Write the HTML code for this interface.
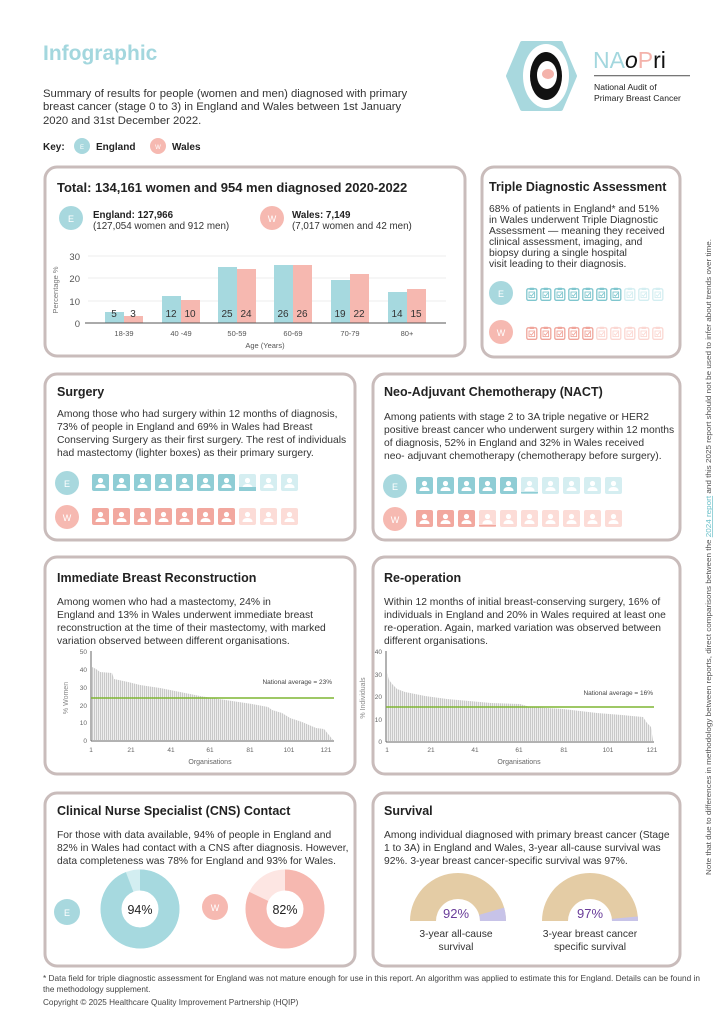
<!DOCTYPE html>
<html><head><meta charset="utf-8"><style>
body{margin:0;background:#fff}
svg{display:block;font-family:"Liberation Sans",sans-serif}
</style></head><body>
<svg width="724" height="1024" viewBox="0 0 724 1024" xmlns="http://www.w3.org/2000/svg">
<defs>
<pattern id="bars" width="2" height="10" patternUnits="userSpaceOnUse"><rect x="0" y="0" width="1.3" height="10" fill="#c9c9c9"/></pattern>
<g id="pp"><rect x="0" y="0" width="17" height="17" rx="2"/><circle cx="8.5" cy="6.5" r="2.6" fill="#fff"/><path d="M3.5 14 Q3.5 10 8.5 10 Q13.5 10 13.5 14 Z" fill="#fff"/></g>
<g id="cb"><rect x="0.8" y="1.8" width="10" height="11.5" rx="1.5" fill="none" stroke-width="1.3"/><rect x="3.5" y="0.8" width="4.6" height="2.2" rx="0.6" stroke-width="0" /><rect x="3" y="5" width="5.6" height="5.6" fill="none" stroke-width="0.9"/><path d="M4 7.8 L5.4 9.2 L7.8 6.2" fill="none" stroke-width="0.9"/></g>
</defs>

<!-- header -->
<text x="43" y="60" font-size="21" font-weight="bold" fill="#a3d7de">Infographic</text>
<text font-size="11.3" fill="#333"><tspan x="43" y="97">Summary of results for people (women and men) diagnosed with primary</tspan><tspan x="43" y="110">breast cancer (stage 0 to 3) in England and Wales between 1st January</tspan><tspan x="43" y="124">2020 and 31st December 2022.</tspan></text>
<text x="43" y="150" font-size="10" font-weight="bold" fill="#222">Key:</text>
<circle cx="82" cy="146" r="8" fill="#a8d8de"/><text x="82" y="149" font-size="6" fill="#fff" text-anchor="middle">E</text>
<text x="96" y="150" font-size="10" font-weight="bold" fill="#222">England</text>
<circle cx="158" cy="146" r="8" fill="#f6b9b1"/><text x="158" y="149" font-size="6" fill="#fff" text-anchor="middle">W</text>
<text x="172" y="150" font-size="10" font-weight="bold" fill="#222">Wales</text>

<!-- logo -->
<polygon points="522,43 561,43 575,76 561,109 522,109 508,76" fill="#a8d8de" stroke="#a8d8de" stroke-width="4" stroke-linejoin="round"/>
<ellipse cx="546" cy="76" rx="23" ry="32" fill="#fff"/>
<ellipse cx="546" cy="76" rx="16" ry="24" fill="#111"/>
<ellipse cx="547" cy="75" rx="10" ry="14" fill="#fff"/>
<ellipse cx="548" cy="74" rx="6" ry="5" fill="#f4b3ab"/>
<text x="593" y="68" font-size="23" fill="#a3d7de">NA<tspan fill="#111" font-style="italic">o</tspan><tspan fill="#f4b3ab">P</tspan><tspan fill="#111">ri</tspan></text>
<rect x="594" y="75" width="96" height="1.3" fill="#777"/>
<text x="594" y="90" font-size="8.6" fill="#222">National Audit of</text>
<text x="594" y="101" font-size="8.6" fill="#222">Primary Breast Cancer</text>

<!-- panels -->
<g fill="#fff" stroke="#c9bcbb" stroke-width="3">
<rect x="45" y="167" width="420" height="189" rx="12"/>
<rect x="482" y="167" width="198" height="190" rx="12"/>
<rect x="45" y="374" width="310" height="166" rx="12"/>
<rect x="373" y="374" width="307" height="166" rx="12"/>
<rect x="45" y="557" width="310" height="217" rx="12"/>
<rect x="373" y="557" width="307" height="217" rx="12"/>
<rect x="45" y="793" width="310" height="173" rx="12"/>
<rect x="373" y="793" width="307" height="173" rx="12"/>
</g>

<!-- Total panel -->
<text x="57" y="192" font-size="13" font-weight="bold" fill="#222">Total: 134,161 women and 954 men diagnosed 2020-2022</text>
<circle cx="71" cy="218" r="12" fill="#a8d8de"/><text x="71" y="222" font-size="9" fill="#fff" text-anchor="middle">E</text>
<text x="93" y="218" font-size="9.8" font-weight="bold" fill="#222">England: 127,966</text>
<text x="93" y="229" font-size="9.8" fill="#333">(127,054 women and 912 men)</text>
<circle cx="272" cy="218" r="12" fill="#f6b9b1"/><text x="272" y="222" font-size="9" fill="#fff" text-anchor="middle">W</text>
<text x="292" y="218" font-size="9.8" font-weight="bold" fill="#222">Wales: 7,149</text>
<text x="292" y="229" font-size="9.8" fill="#333">(7,017 women and 42 men)</text>
<g stroke="#e6e6e6" stroke-width="0.8"><line x1="88" y1="256" x2="446" y2="256"/><line x1="88" y1="278" x2="446" y2="278"/><line x1="88" y1="301" x2="446" y2="301"/></g>
<g font-size="9.5" fill="#555" text-anchor="end"><text x="80" y="260">30</text><text x="80" y="282">20</text><text x="80" y="305">10</text><text x="80" y="327">0</text></g>
<text transform="translate(58,290) rotate(-90)" font-size="7.5" fill="#777" text-anchor="middle">Percentage %</text>
<g fill="#a6d9df"><rect x="105" y="312" width="19" height="11"/><rect x="162" y="296" width="19" height="27"/><rect x="218" y="267" width="19" height="56"/><rect x="274" y="265" width="19" height="58"/><rect x="331" y="280" width="19" height="43"/><rect x="388" y="292" width="19" height="31"/></g>
<g fill="#f6b8b0"><rect x="124" y="316" width="19" height="7"/><rect x="181" y="300" width="19" height="23"/><rect x="237" y="269" width="19" height="54"/><rect x="293" y="265" width="19" height="58"/><rect x="350" y="274" width="19" height="49"/><rect x="407" y="289" width="19" height="34"/></g>
<line x1="85" y1="323" x2="446" y2="323" stroke="#555" stroke-width="1"/>
<g font-size="10" fill="#333" text-anchor="middle"><text x="114" y="317">5</text><text x="133" y="317">3</text><text x="171" y="317">12</text><text x="190" y="317">10</text><text x="227" y="317">25</text><text x="246" y="317">24</text><text x="283" y="317">26</text><text x="302" y="317">26</text><text x="340" y="317">19</text><text x="359" y="317">22</text><text x="397" y="317">14</text><text x="416" y="317">15</text></g>
<g font-size="7.5" fill="#555" text-anchor="middle"><text x="124" y="336">18-39</text><text x="181" y="336">40 -49</text><text x="237" y="336">50-59</text><text x="293" y="336">60-69</text><text x="350" y="336">70-79</text><text x="407" y="336">80+</text></g>
<text x="265" y="348" font-size="7.5" fill="#555" text-anchor="middle">Age (Years)</text>

<!-- TDA -->
<text x="489" y="191" font-size="12.5" font-weight="bold" fill="#222">Triple Diagnostic Assessment</text>
<text font-size="10.3" fill="#333"><tspan x="489" y="212">68% of patients in England* and 51%</tspan><tspan x="489" y="223">in Wales underwent Triple Diagnostic</tspan><tspan x="489" y="234">Assessment — meaning they received</tspan><tspan x="489" y="245">clinical assessment, imaging, and</tspan><tspan x="489" y="256">biopsy during a single hospital</tspan><tspan x="489" y="267">visit leading to their diagnosis.</tspan></text>
<circle cx="501" cy="293" r="12" fill="#a8d8de"/><text x="501" y="297" font-size="9" fill="#fff" text-anchor="middle">E</text>
<circle cx="501" cy="332" r="12" fill="#f6b9b1"/><text x="501" y="336" font-size="9" fill="#fff" text-anchor="middle">W</text>
<g stroke="#7fc6ce" fill="#7fc6ce"><use href="#cb" x="526" y="287"/><use href="#cb" x="540" y="287"/><use href="#cb" x="554" y="287"/><use href="#cb" x="568" y="287"/><use href="#cb" x="582" y="287"/><use href="#cb" x="596" y="287"/><use href="#cb" x="610" y="287"/></g>
<g stroke="#d3eef1" fill="#d3eef1"><use href="#cb" x="624" y="287"/><use href="#cb" x="638" y="287"/><use href="#cb" x="652" y="287"/></g>
<g stroke="#f0a49a" fill="#f0a49a"><use href="#cb" x="526" y="326"/><use href="#cb" x="540" y="326"/><use href="#cb" x="554" y="326"/><use href="#cb" x="568" y="326"/><use href="#cb" x="582" y="326"/></g>
<g stroke="#fbd7d2" fill="#fbd7d2"><use href="#cb" x="596" y="326"/><use href="#cb" x="610" y="326"/><use href="#cb" x="624" y="326"/><use href="#cb" x="638" y="326"/><use href="#cb" x="652" y="326"/></g>

<!-- Surgery -->
<text x="57" y="396" font-size="12.5" font-weight="bold" fill="#222">Surgery</text>
<text font-size="10.3" fill="#333"><tspan x="57" y="417">Among those who had surgery within 12 months of diagnosis,</tspan><tspan x="57" y="430">73% of people in England and 69% in Wales had Breast</tspan><tspan x="57" y="443">Conserving Surgery as their first surgery. The rest of individuals</tspan><tspan x="57" y="456">had mastectomy (lighter boxes) as their primary surgery.</tspan></text>
<circle cx="67" cy="483" r="12" fill="#a8d8de"/><text x="67" y="487" font-size="9" fill="#fff" text-anchor="middle">E</text>
<circle cx="67" cy="517" r="12" fill="#f6b9b1"/><text x="67" y="521" font-size="9" fill="#fff" text-anchor="middle">W</text>
<g fill="#8fcdd5"><use href="#pp" x="92" y="474"/><use href="#pp" x="113" y="474"/><use href="#pp" x="134" y="474"/><use href="#pp" x="155" y="474"/><use href="#pp" x="176" y="474"/><use href="#pp" x="197" y="474"/><use href="#pp" x="218" y="474"/></g>
<g fill="#d5eef1"><use href="#pp" x="239" y="474"/><use href="#pp" x="260" y="474"/><use href="#pp" x="281" y="474"/></g>
<rect x="239" y="487" width="17" height="4" fill="#8fcdd5"/>
<g fill="#f2a89f"><use href="#pp" x="92" y="508"/><use href="#pp" x="113" y="508"/><use href="#pp" x="134" y="508"/><use href="#pp" x="155" y="508"/><use href="#pp" x="176" y="508"/><use href="#pp" x="197" y="508"/><use href="#pp" x="218" y="508"/></g>
<g fill="#fcdcd7"><use href="#pp" x="239" y="508"/><use href="#pp" x="260" y="508"/><use href="#pp" x="281" y="508"/></g>

<!-- NACT -->
<text x="384" y="396" font-size="12.5" font-weight="bold" fill="#222">Neo-Adjuvant Chemotherapy (NACT)</text>
<text font-size="10.3" fill="#333"><tspan x="384" y="420">Among patients with stage 2 to 3A triple negative or HER2</tspan><tspan x="384" y="433">positive breast cancer who underwent surgery within 12 months</tspan><tspan x="384" y="446">of diagnosis, 52% in England and 32% in Wales received</tspan><tspan x="384" y="459">neo- adjuvant chemotherapy (chemotherapy before surgery).</tspan></text>
<circle cx="395" cy="486" r="12" fill="#a8d8de"/><text x="395" y="490" font-size="9" fill="#fff" text-anchor="middle">E</text>
<circle cx="395" cy="519" r="12" fill="#f6b9b1"/><text x="395" y="523" font-size="9" fill="#fff" text-anchor="middle">W</text>
<g fill="#8fcdd5"><use href="#pp" x="416" y="477"/><use href="#pp" x="437" y="477"/><use href="#pp" x="458" y="477"/><use href="#pp" x="479" y="477"/><use href="#pp" x="500" y="477"/></g>
<g fill="#d5eef1"><use href="#pp" x="521" y="477"/><use href="#pp" x="542" y="477"/><use href="#pp" x="563" y="477"/><use href="#pp" x="584" y="477"/><use href="#pp" x="605" y="477"/></g>
<rect x="521" y="492" width="17" height="1.5" fill="#8fcdd5"/>
<g fill="#f2a89f"><use href="#pp" x="416" y="510"/><use href="#pp" x="437" y="510"/><use href="#pp" x="458" y="510"/></g>
<g fill="#fcdcd7"><use href="#pp" x="479" y="510"/><use href="#pp" x="500" y="510"/><use href="#pp" x="521" y="510"/><use href="#pp" x="542" y="510"/><use href="#pp" x="563" y="510"/><use href="#pp" x="584" y="510"/><use href="#pp" x="605" y="510"/></g>
<rect x="479" y="525" width="17" height="1.5" fill="#f2a89f"/>

<!-- IBR -->
<text x="57" y="582" font-size="12.5" font-weight="bold" fill="#222">Immediate Breast Reconstruction</text>
<text font-size="10.3" fill="#333"><tspan x="57" y="605">Among women who had a mastectomy, 24% in</tspan><tspan x="57" y="618">England and 13% in Wales underwent immediate breast</tspan><tspan x="57" y="631">reconstruction at the time of their mastectomy, with marked</tspan><tspan x="57" y="644">variation observed between different organisations.</tspan></text>
<polygon fill="url(#bars)" points="92,740 92,667 96,669 100,672 112,673 114,679 128,682 140,685 160,688 180,692 200,696 212,698 232,701 252,704 268,707 272,710 282,713 290,718 302,722 316,728 324,729 333,740"/>
<line x1="91" y1="651" x2="91" y2="741" stroke="#666" stroke-width="1"/>
<line x1="91" y1="741" x2="334" y2="741" stroke="#666" stroke-width="1"/>
<line x1="91" y1="698" x2="334" y2="698" stroke="#7fb532" stroke-width="1.5"/>
<text x="332" y="684" font-size="6.5" fill="#444" text-anchor="end">National average = 23%</text>
<g font-size="6.5" fill="#666" text-anchor="end"><text x="87" y="654">50</text><text x="87" y="672">40</text><text x="87" y="690">30</text><text x="87" y="708">20</text><text x="87" y="725">10</text><text x="87" y="743">0</text></g>
<text transform="translate(68,698) rotate(-90)" font-size="7" fill="#888" text-anchor="middle">% Women</text>
<g font-size="6.5" fill="#666" text-anchor="middle"><text x="91" y="752">1</text><text x="131" y="752">21</text><text x="171" y="752">41</text><text x="210" y="752">61</text><text x="250" y="752">81</text><text x="289" y="752">101</text><text x="326" y="752">121</text></g>
<text x="210" y="764" font-size="7" fill="#666" text-anchor="middle">Organisations</text>

<!-- Re-op -->
<text x="384" y="582" font-size="12.5" font-weight="bold" fill="#222">Re-operation</text>
<text font-size="10.3" fill="#333"><tspan x="384" y="605">Within 12 months of initial breast-conserving surgery, 16% of</tspan><tspan x="384" y="618">individuals in England and 20% in Wales required at least one</tspan><tspan x="384" y="631">re-operation. Again, marked variation was observed between</tspan><tspan x="384" y="644">different organisations.</tspan></text>
<polygon fill="url(#bars)" points="387,741 387,673 389,680 393,685 397,689 405,692 425,696 447,699 469,701 491,703 520,704 530,707 563,709 597,713 622,715 632,716 643,717 647,723 651,727 653,741"/>
<line x1="386" y1="651" x2="386" y2="742" stroke="#666" stroke-width="1"/>
<line x1="386" y1="742" x2="654" y2="742" stroke="#666" stroke-width="1"/>
<line x1="386" y1="707" x2="654" y2="707" stroke="#7fb532" stroke-width="1.5"/>
<text x="653" y="695" font-size="6.5" fill="#444" text-anchor="end">National average = 16%</text>
<g font-size="6.5" fill="#666" text-anchor="end"><text x="382" y="654">40</text><text x="382" y="677">30</text><text x="382" y="699">20</text><text x="382" y="722">10</text><text x="382" y="744">0</text></g>
<text transform="translate(365,698) rotate(-90)" font-size="7" fill="#888" text-anchor="middle">% Individuals</text>
<g font-size="6.5" fill="#666" text-anchor="middle"><text x="387" y="752">1</text><text x="431" y="752">21</text><text x="475" y="752">41</text><text x="519" y="752">61</text><text x="564" y="752">81</text><text x="608" y="752">101</text><text x="652" y="752">121</text></g>
<text x="519" y="764" font-size="7" fill="#666" text-anchor="middle">Organisations</text>

<!-- CNS -->
<text x="57" y="815" font-size="12.5" font-weight="bold" fill="#222">Clinical Nurse Specialist (CNS) Contact</text>
<text font-size="10.3" fill="#333"><tspan x="57" y="838">For those with data available, 94% of people in England and</tspan><tspan x="57" y="851">82% in Wales had contact with a CNS after diagnosis. However,</tspan><tspan x="57" y="864">data completeness was 78% for England and 93% for Wales.</tspan></text>
<circle cx="67" cy="912" r="13" fill="#a8d8de"/><text x="67" y="916" font-size="9" fill="#fff" text-anchor="middle">E</text>
<circle cx="140" cy="909" r="29" fill="none" stroke="#d3eef1" stroke-width="21"/>
<circle cx="140" cy="909" r="29" fill="none" stroke="#a6d9df" stroke-width="21" stroke-dasharray="171.3 200" transform="rotate(-90 140 909)"/>
<text x="140" y="914" font-size="12.5" fill="#222" text-anchor="middle">94%</text>
<circle cx="215" cy="907" r="13" fill="#f6b9b1"/><text x="215" y="911" font-size="9" fill="#fff" text-anchor="middle">W</text>
<circle cx="285" cy="909" r="29" fill="none" stroke="#fde6e3" stroke-width="21"/>
<circle cx="285" cy="909" r="29" fill="none" stroke="#f6b8b0" stroke-width="21" stroke-dasharray="149.4 200" transform="rotate(-90 285 909)"/>
<text x="285" y="914" font-size="12.5" fill="#222" text-anchor="middle">82%</text>

<!-- Survival -->
<text x="384" y="815" font-size="12.5" font-weight="bold" fill="#222">Survival</text>
<text font-size="10.3" fill="#333"><tspan x="384" y="838">Among individual diagnosed with primary breast cancer (Stage</tspan><tspan x="384" y="851">1 to 3A) in England and Wales, 3-year all-cause survival was</tspan><tspan x="384" y="864">92%. 3-year breast cancer-specific survival was 97%.</tspan></text>
<path d="M410 921 A48 48 0 0 1 506 921 L480 921 A22 22 0 0 0 436 921 Z" fill="#e4cca5"/>
<path d="M504.1 907.6 A48 48 0 0 1 506 921 L480 921 A22 22 0 0 0 479.1 914.9 Z" fill="#c7c3e8"/>
<text x="456" y="918" font-size="13" fill="#6a3d9a" text-anchor="middle">92%</text>
<text x="456" y="937" font-size="10.3" fill="#333" text-anchor="middle">3-year all-cause</text>
<text x="456" y="950" font-size="10.3" fill="#333" text-anchor="middle">survival</text>
<path d="M542 921 A48 48 0 0 1 638 921 L612 921 A22 22 0 0 0 568 921 Z" fill="#e4cca5"/>
<path d="M637.8 916.5 A48 48 0 0 1 638 921 L612 921 A22 22 0 0 0 611.9 918.9 Z" fill="#c7c3e8"/>
<text x="590" y="918" font-size="13" fill="#6a3d9a" text-anchor="middle">97%</text>
<text x="590" y="937" font-size="10.3" fill="#333" text-anchor="middle">3-year breast cancer</text>
<text x="590" y="950" font-size="10.3" fill="#333" text-anchor="middle">specific survival</text>

<!-- footer -->
<text x="43" y="981" font-size="8.2" fill="#444" textLength="657" lengthAdjust="spacingAndGlyphs">* Data field for triple diagnostic assessment for England was not mature enough for use in this report. An algorithm was applied to estimate this for England. Details can be found in</text>
<text x="43" y="992" font-size="8.2" fill="#444">the methodology supplement.</text>
<text x="43" y="1005" font-size="8.2" fill="#444">Copyright © 2025 Healthcare Quality Improvement Partnership (HQIP)</text>

<!-- vertical note -->
<text transform="translate(711,875) rotate(-90)" font-size="7" fill="#555" textLength="636" lengthAdjust="spacingAndGlyphs">Note that due to differences in methodology between reports, direct comparisons between the <tspan fill="#6cc0c9" text-decoration="underline">2024 report</tspan> and this 2025 report should not be used to infer about trends over time.</text>
</svg>
</body></html>
